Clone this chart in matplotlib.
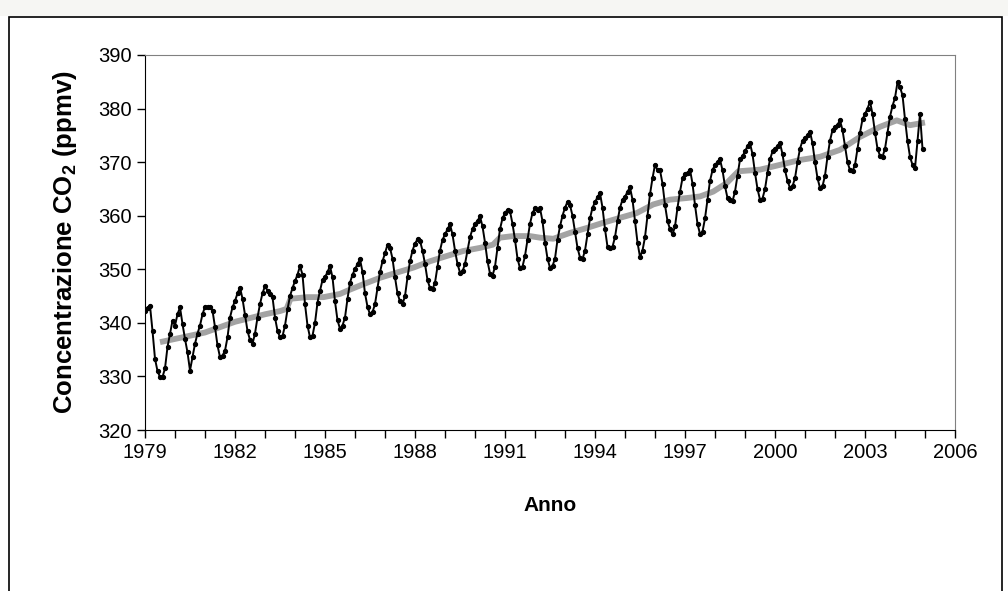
import numpy as np
import matplotlib.pyplot as plt
from matplotlib.patches import Rectangle

plt.rcParams['font.family'] = ['Liberation Sans', 'DejaVu Sans']
plt.rcParams['mathtext.fontset'] = 'custom'
plt.rcParams['mathtext.rm'] = 'Liberation Sans'
plt.rcParams['mathtext.bf'] = 'Liberation Sans:bold'

# Concentrazione mensile di CO2 (ppmv), gennaio 1979 - dicembre 2004
start_year = 1979
co2 = [
    342.3, 342.8, 343.2, 338.5, 333.3, 331.0, 329.9, 329.9, 331.5, 335.5, 337.9, 340.4,  # 1979
    339.5, 341.6, 342.9, 339.8, 337.0, 334.5, 331.1, 333.6, 336.1, 338.0, 339.5, 341.6,  # 1980
    343.0, 342.9, 342.9, 342.3, 339.2, 335.8, 333.6, 333.9, 334.8, 337.3, 341.0, 342.9,  # 1981
    344.1, 345.5, 346.6, 344.5, 341.5, 338.5, 336.8, 336.1, 338.0, 341.0, 343.5, 345.5,  # 1982
    346.9, 346.0, 345.4, 344.8, 341.0, 338.5, 337.3, 337.5, 339.5, 342.5, 345.0, 346.5,  # 1983
    347.8, 349.0, 350.6, 349.0, 343.5, 339.5, 337.3, 337.6, 340.0, 343.8, 346.0, 348.0,  # 1984
    348.5, 349.5, 350.6, 348.5, 344.0, 340.5, 338.9, 339.5, 341.0, 344.5, 347.5, 349.0,  # 1985
    350.0, 351.0, 351.9, 349.5, 345.5, 343.0, 341.6, 342.0, 343.5, 346.5, 349.5, 351.5,  # 1986
    353.0, 354.6, 354.0, 352.0, 348.5, 345.5, 344.0, 343.5, 345.0, 348.5, 351.5, 353.5,  # 1987
    354.8, 355.6, 355.3, 353.5, 351.0, 348.0, 346.5, 346.3, 347.5, 350.5, 353.5, 355.5,  # 1988
    356.5, 357.5, 358.4, 356.5, 353.5, 351.0, 349.4, 349.6, 351.0, 353.5, 356.0, 357.5,  # 1989
    358.5, 359.0, 359.9, 358.0, 355.0, 351.5, 349.2, 348.8, 350.5, 354.0, 357.5, 359.5,  # 1990
    360.5, 361.1, 360.8, 358.5, 355.5, 352.0, 350.2, 350.5, 352.5, 355.5, 358.5, 360.5,  # 1991
    361.4, 361.0, 361.4, 359.0, 355.0, 352.0, 350.3, 350.6, 352.0, 355.5, 358.0, 360.0,  # 1992
    361.5, 362.6, 362.0, 360.0, 357.0, 354.0, 352.2, 351.9, 353.5, 356.5, 359.5, 361.5,  # 1993
    362.5, 363.5, 364.2, 361.5, 357.5, 354.2, 354.0, 354.2, 356.0, 359.0, 361.5, 363.0,  # 1994
    363.5, 364.5, 365.3, 363.0, 359.0, 355.0, 352.3, 353.5, 356.0, 360.0, 364.0, 367.0,  # 1995
    369.5, 368.5, 368.5, 366.0, 362.0, 359.0, 357.5, 356.5, 358.0, 361.5, 364.5, 367.0,  # 1996
    367.8, 368.0, 368.6, 366.0, 362.0, 358.5, 356.6, 357.0, 359.5, 363.0, 366.5, 368.5,  # 1997
    369.5, 370.0, 370.5, 368.5, 365.5, 363.3, 363.0, 362.7, 364.5, 367.5, 370.5, 371.1,  # 1998
    372.0, 373.0, 373.5, 371.5, 368.0, 365.0, 363.0, 363.2, 365.0, 368.0, 370.5, 372.0,  # 1999
    372.5, 373.0, 373.5, 371.5, 368.5, 366.5, 365.2, 365.5, 367.0, 370.0, 372.5, 374.0,  # 2000
    374.5, 375.0, 375.7, 373.5, 370.0, 367.0, 365.2, 365.5, 367.5, 371.0, 374.0, 376.0,  # 2001
    376.5, 377.0, 377.8, 376.0, 373.0, 370.0, 368.5, 368.3, 369.5, 372.5, 375.5, 378.0,  # 2002
    379.0, 380.0, 381.3, 379.0, 375.5, 372.5, 371.2, 371.0, 372.5, 375.5, 378.5, 380.5,  # 2003
    382.0, 384.9, 384.0, 382.5, 378.0, 374.0, 371.0, 369.5, 368.9, 374.0, 379.0, 372.5,  # 2004
]

# Media mobile (linea grigia)
trend_year = [1979.5, 1980.0, 1980.5, 1981.0, 1981.5, 1982.0, 1982.5, 1983.0, 1983.5, 1983.72,
              1983.85, 1984.4, 1984.95, 1985.5, 1985.83, 1986.27, 1986.83, 1987.4, 1987.94, 1988.5,
              1989.07, 1989.6, 1990.17, 1990.6, 1990.83, 1991.27, 1991.83, 1992.17, 1992.61, 1993.17,
              1993.72, 1994.28, 1994.83, 1995.39, 1995.94, 1996.5, 1997.06, 1997.5, 1997.94, 1998.39,
              1998.78, 1999.5, 2000.17, 2000.83, 2001.5, 2002.17, 2002.83, 2003.5, 2004.06, 2004.5,
              2005.0]
trend_val = [336.4, 337.0, 337.6, 338.2, 339.2, 340.2, 340.9, 341.6, 342.2, 342.6,
             344.5, 344.8, 344.8, 345.4, 346.2, 347.2, 348.4, 349.4, 350.3, 351.5,
             352.5, 353.4, 354.0, 354.6, 355.9, 356.2, 356.2, 355.9, 355.7, 356.8,
             357.7, 358.7, 359.6, 360.5, 362.1, 363.0, 363.3, 363.6, 364.5, 366.1,
             368.3, 368.6, 369.5, 370.4, 371.0, 372.3, 374.7, 376.6, 377.8, 376.9,
             377.4]

x_ticks = list(range(1979, 2007, 3))
y_ticks = list(range(320, 391, 10))

months = start_year + np.arange(len(co2)) / 12.0

fig = plt.figure(figsize=(10.08, 5.91), dpi=100)
fig.patch.set_facecolor('white')
# cornice esterna del grafico
fig.patches.append(Rectangle((9 / 1008, -0.05), 993 / 1008, 1.05 - 17 / 591,
                             transform=fig.transFigure, fill=False,
                             edgecolor='black', linewidth=1.2))
fig.patches.append(Rectangle((0, 1 - 16 / 591), 1, 16 / 591, transform=fig.transFigure,
                             facecolor='#f6f6f3', edgecolor='none'))

ax = fig.add_axes([145 / 1008, 1 - 430 / 591, 810 / 1008, 375 / 591])
ax.plot(trend_year, trend_val, color='#a3a3a3', linewidth=4.2, solid_capstyle='butt', zorder=2)
ax.plot(months, co2, color='black', linewidth=1.4, marker='o', markersize=2.8, zorder=3)

ax.set_xlim(1979, 2006)
ax.set_ylim(320, 390)
ax.set_xticks(x_ticks)
ax.set_xticks(range(1979, 2007), minor=True)
ax.set_yticks(y_ticks)
ax.tick_params(axis='both', which='both', direction='out', length=6, width=1, labelsize=14.5)
ax.tick_params(axis='x', which='minor', length=6)

for side in ['top', 'right']:
    ax.spines[side].set_color('#808080')
for side in ['left', 'bottom']:
    ax.spines[side].set_color('black')

ax.set_xlabel('Anno', fontsize=15, fontweight='bold', labelpad=24)
ax.set_ylabel(r'Concentrazione CO$_\mathbf{2}$ (ppmv)', fontsize=18.5, fontweight='bold', labelpad=14)

fig.savefig('out.png', dpi=100)
